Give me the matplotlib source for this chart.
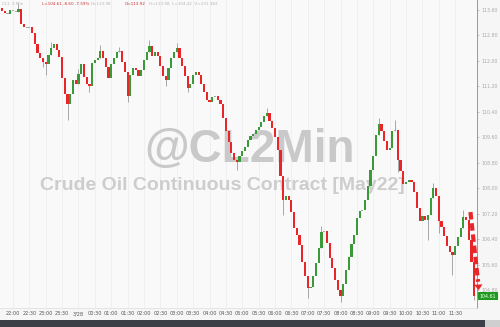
import matplotlib

matplotlib.use("Agg")
import matplotlib.pyplot as plt  # noqa: E402
from matplotlib.patches import Rectangle  # noqa: E402

# 5-minute bars of CL (May22), starting 21:35
first_open = 113.92
closes = [
    113.66, 113.57, 113.51, 113.49, 113.60, 113.57, 113.55, 113.63, 113.16, 113.07,
    113.04, 113.07, 112.88, 112.53, 112.25, 112.09, 111.97, 111.90, 112.19, 112.41,
    112.53, 112.34, 112.12, 111.46, 110.96, 110.65, 110.96, 111.40, 111.27, 111.59,
    111.90, 111.50, 111.27, 111.21, 111.94, 112.03, 112.09, 112.31, 112.09, 111.81,
    111.46, 111.90, 112.09, 112.28, 112.31, 111.97, 111.65, 110.90, 111.56, 111.78,
    111.72, 111.53, 111.72, 112.03, 112.28, 112.47, 112.16, 112.28, 112.16, 111.84,
    111.53, 111.40, 111.78, 112.09, 112.28, 112.41, 112.09, 111.84, 111.53, 111.15,
    111.27, 111.56, 111.65, 111.56, 111.27, 111.02, 110.77, 110.71, 110.87, 110.90,
    110.77, 110.65, 110.21, 109.80, 109.45, 109.11, 108.89, 108.82, 109.01, 109.17,
    109.30, 109.52, 109.64, 109.70, 109.83, 109.92, 110.08, 110.27, 110.36, 110.11,
    109.89, 109.61, 109.20, 108.38, 107.63, 107.76, 107.63, 107.25, 106.75, 106.53,
    106.22, 105.68, 105.24, 104.86, 104.90, 105.24, 105.65, 106.12, 106.62, 106.66,
    106.28, 105.81, 105.49, 105.12, 104.80, 104.61, 104.99, 105.43, 105.84, 106.25,
    106.53, 107.06, 107.28, 107.32, 107.63, 108.07, 108.57, 109.01, 109.67, 110.02,
    109.80, 109.48, 109.20, 109.26, 109.80, 109.83, 108.89, 108.54, 108.13, 108.19,
    108.26, 108.19, 107.88, 107.38, 106.97, 107.13, 107.00, 107.16, 107.69, 108.01,
    107.76, 106.97, 106.78, 106.50, 106.18, 105.99, 105.90, 106.18, 106.47, 106.75,
    107.10, 107.00, 106.37, 105.68, 104.61,
]
# visible wicks only (bar index -> price)
wick_highs = {0: 113.80, 7: 113.82, 19: 112.60, 29: 111.75, 37: 112.50, 44: 112.45,
              55: 112.66, 65: 112.55, 98: 110.52, 118: 106.80, 139: 110.21,
              145: 110.14, 159: 108.15, 170: 107.32}
wick_lows = {16: 111.80, 17: 111.56, 25: 110.14, 33: 111.02, 47: 110.71, 61: 111.20,
             69: 111.02, 87: 108.57, 104: 107.16, 113: 104.55, 125: 104.42,
             146: 108.50, 157: 106.37, 161: 106.60, 166: 105.27, 174: 104.50}

price_ticks = [113.60, 112.80, 112.00, 111.20, 110.40, 109.60,
               108.80, 108.00, 107.20, 106.40, 105.60, 104.80]
time_ticks = ["22:00", "22:30", "23:00", "23:30", "00:00", "00:30", "01:00", "01:30",
              "02:00", "02:30", "03:00", "03:30", "04:00", "04:30", "05:00", "05:30",
              "06:00", "06:30", "07:00", "07:30", "08:00", "08:30", "09:00", "09:30",
              "10:00", "10:30", "11:00", "11:30"]
date_label = "3/28"
start_minute = 21 * 60 + 35
bar_minutes = 5

RED = "#e8262a"
GREEN = "#3a9a3a"
GRAY = "#a8a8a8"

opens = [first_open] + closes[:-1]
n = len(closes)
idx = list(range(n))

fig = plt.figure(figsize=(5.0, 3.27), dpi=100)
fig.patch.set_facecolor("#f6f6f6")
ax = fig.add_axes([0, 1 - 308 / 327, 477 / 500, 308 / 327])
ax.set_facecolor("#f9f9f9")

# candles
body_col = []
bottoms = []
heights = []
for o, c in zip(opens, closes):
    if abs(c - o) < 0.04:
        body_col.append(GRAY)
    elif c > o:
        body_col.append(GREEN)
    else:
        body_col.append(RED)
    bottoms.append(min(o, c))
    heights.append(max(abs(c - o), 0.03))

for i in idx:
    hi = wick_highs.get(i, max(opens[i], closes[i]))
    lo = wick_lows.get(i, min(opens[i], closes[i]))
    if hi > max(opens[i], closes[i]) or lo < min(opens[i], closes[i]):
        ax.vlines(i, lo, hi, color="#9a9a9a", linewidth=0.6, zorder=2)
ax.bar(idx, heights, bottom=bottoms, width=0.8, color=body_col, linewidth=0, zorder=3)

# watermark
ax.text(250 / 500, 1 - 150 / 327, "@CL2Min", transform=fig.transFigure,
        ha="center", va="center", fontsize=33, fontweight="bold",
        family="Liberation Sans", color="#c9c9c9", zorder=1)
ax.text(222 / 500, 1 - 186 / 327, "Crude Oil Continuous Contract [May22]",
        transform=fig.transFigure, ha="center", va="center", fontsize=14,
        fontweight="bold", family="Liberation Sans", color="#cdcdcd", zorder=1)

# axes, ticks
ax.set_xlim(0.24, 175.0)
ax.set_ylim(104.235, 113.915)
tick_pos = []
tick_lab = []
for t in time_ticks:
    h, m = map(int, t.split(":"))
    tick_pos.append(((h * 60 + m - start_minute) % 1440) / bar_minutes)
    tick_lab.append(date_label if t == "00:00" else t)
ax.set_xticks(tick_pos)
ax.set_xticklabels([])
ax.tick_params(axis="x", length=0)
for pos, lab in zip(tick_pos, tick_lab):
    ax.text(pos, -0.0235, lab, transform=ax.get_xaxis_transform(), ha="center",
            va="baseline", fontsize=3.6, color="#555555", clip_on=False)
ax.grid(axis="x", color="#ebebeb", linewidth=0.5, zorder=0)
ax.set_axisbelow(True)

ax.yaxis.tick_right()
ax.set_yticks(price_ticks)
ax.set_yticklabels([f"{p:.2f}" for p in price_ticks], fontsize=3.4, color="#aaaaaa")
ax.tick_params(axis="y", length=1.5, width=0.4, color="#999999", pad=1.5)

for s in ("left", "top"):
    ax.spines[s].set_visible(False)
ax.spines["right"].set_color("#8a8a8a")
ax.spines["right"].set_linewidth(0.6)
ax.spines["bottom"].set_color("#dddddd")
ax.spines["bottom"].set_linewidth(0.5)

# dashed red arrow into the last bar
x0, y0 = n - 2.4, max(closes[-5:]) + 0.15
x1, y1 = n + 0.7, closes[-1] + 0.1
ax.plot([x0, x1 - 0.3], [y0, y1 + 0.35], color=RED, linewidth=3.0,
        linestyle=(0, (1.8, 0.9)), clip_on=False, zorder=5, solid_capstyle="butt")
ax.annotate("", xy=(x1, y1), xytext=(x1 - 0.4, y1 + 0.5),
            arrowprops=dict(arrowstyle="-|>,head_width=0.3,head_length=0.4",
                            color=RED, linewidth=0), annotation_clip=False, zorder=5)

# last price box
ax.annotate(f"{closes[-1]:.2f}", xy=(1.0, closes[-1]), xycoords=("axes fraction", "data"),
            xytext=(2, 0), textcoords="offset points", fontsize=3.4, color="white",
            va="center", ha="left",
            bbox=dict(boxstyle="square,pad=0.35", fc="#1f9a1f", ec="none"),
            annotation_clip=False, zorder=6)

# header line
hy = 1 - 4 / 327
fig.text(0.004, hy, "CL1  5 Min", fontsize=3, color="#b5b5b5", va="center")
fig.text(0.084, hy, "L=104.61 -8.60 -7.59%", fontsize=3, color="#d03030", va="center")
fig.text(0.182, hy, "H=113.98", fontsize=3, color="#b5b5b5", va="center")
fig.text(0.25, hy, "O=113.92", fontsize=3, color="#d03030", va="center")
fig.text(0.298, hy, "H=113.98  L=104.42  V=231,382", fontsize=3, color="#b5b5b5", va="center")

# bottom scroll bar
fig.patches.append(Rectangle((0, 0), 485 / 500, 7 / 327, transform=fig.transFigure,
                             facecolor="#3c3f45", edgecolor="none"))
fig.patches.append(Rectangle((485 / 500, 0), 15 / 500, 7 / 327, transform=fig.transFigure,
                             facecolor="#cfcfcf", edgecolor="none"))

fig.savefig("out.png", dpi=100, facecolor=fig.get_facecolor())
plt.close(fig)
